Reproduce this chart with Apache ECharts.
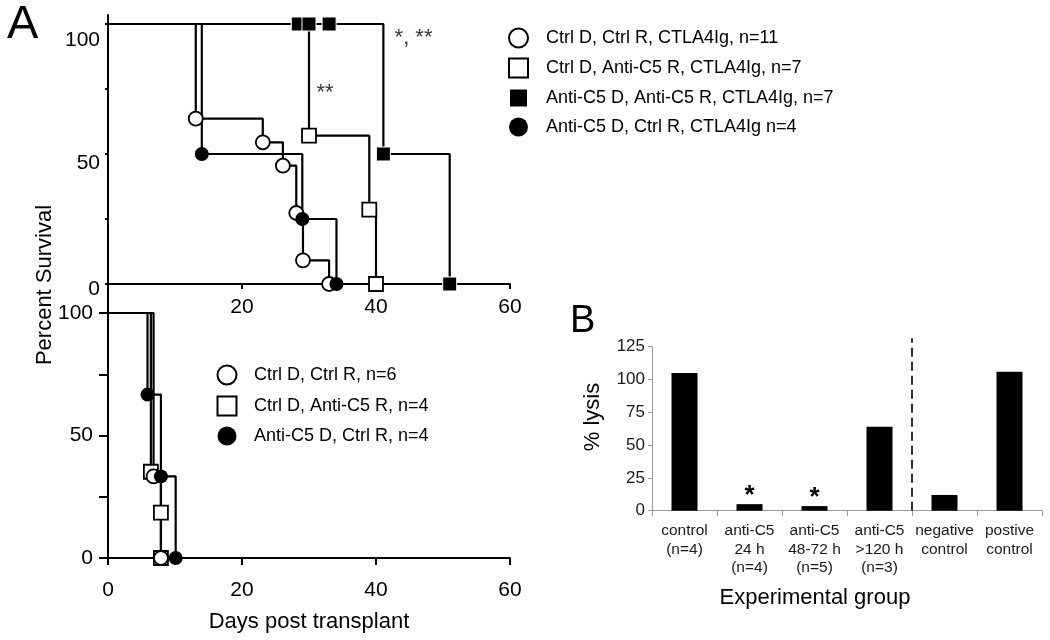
<!DOCTYPE html>
<html>
<head>
<meta charset="utf-8">
<script src="https://cdn.jsdelivr.net/npm/echarts@6/dist/echarts.min.js"></script>
<style>html,body{margin:0;padding:0;background:#fff}#c{width:1050px;height:640px}</style>
</head>
<body>
<div id="c"></div>
<script>
// ---- Panel A (top): CTLA4Ig groups ----
const topDaysCC = [13.1, 23.1, 26.1, 28.1, 29.1, 33];
const topSurvCC = [63.6, 54.5, 45.5, 27.3, 9.1, 0];
const topDaysCA = [30, 39, 40];
const topSurvCA = [57.1, 28.6, 0];
const topDaysAA = [41.1, 51];
const topSurvAA = [50, 0];
const topCensorAA = [28.4, 30, 33];
const topDaysAC = [14, 29, 34.1];
const topSurvAC = [50, 25, 0];
const topNames = ['Ctrl D, Ctrl R, CTLA4Ig, n=11', 'Ctrl D, Anti-C5 R, CTLA4Ig, n=7', 'Anti-C5 D, Anti-C5 R, CTLA4Ig, n=7', 'Anti-C5 D, Ctrl R, CTLA4Ig n=4'];
const topNotes = ['**', '*, **'];
const topNoteDays = [32.4, 45.6];
const topNoteVals = [73.6, 94.6];

// ---- Panel A (bottom): no CTLA4Ig ----
const botDaysCC = [6.8, 7.9];
const botSurvCC = [33.3, 0];
const botDaysCA = [6.4, 7.9, 7.9];
const botSurvCA = [35.2, 18.5, 0];
const botDaysAC = [5.9, 7.9, 10.1];
const botSurvAC = [66.7, 33.3, 0];
const botNames = ['Ctrl D, Ctrl R, n=6', 'Ctrl D, Anti-C5 R, n=4', 'Anti-C5 D, Ctrl R, n=4'];

const survTicks = [0, 25, 50, 75, 100];
const survLabels = [0, 50, 100];
const dayTicks = [0, 20, 40, 60];

// ---- Panel B: bars ----
const barCats = ['control\n(n=4)', 'anti-C5\n24 h\n(n=4)', 'anti-C5\n48-72 h\n(n=5)', 'anti-C5\n>120 h\n(n=3)', 'negative\ncontrol', 'postive\ncontrol'];
const barVals = [105, 5, 3.5, 64, 12, 106];
const barSig = ['', '*', '*', '', '', ''];
const dividerAt = 4;

const FF = 'Liberation Sans, Arial, Helvetica, sans-serif';

function stepPath(days, surv) {
  const pts = [[0, 100]];
  let prev = 100;
  days.forEach((d, i) => { pts.push([d, prev]); pts.push([d, surv[i]]); prev = surv[i]; });
  return pts;
}
function pts(days, surv) { return days.map((d, i) => [d, surv[i]]); }

const openStyle = { color: '#fff', borderColor: '#000', borderWidth: 1.8, opacity: 1 };
const fillStyle = { color: '#000', borderColor: '#000', borderWidth: 0, opacity: 1 };
const lineStyle = { color: '#000', width: 2.2 };

function kmLine(name, data, xi) {
  return { name: name, type: 'line', xAxisIndex: xi, yAxisIndex: xi, data: data, showSymbol: false, symbol: 'none',
    lineStyle: lineStyle, itemStyle: { color: '#000' }, z: 2, silent: true };
}
function kmMarks(name, data, xi, symbol, style) {
  return { name: name, type: 'scatter', xAxisIndex: xi, yAxisIndex: xi, data: data, symbol: symbol, symbolSize: 14,
    itemStyle: style, z: 5, emphasis: { disabled: true } };
}

const chart = echarts.init(document.getElementById('c'), null, { renderer: 'canvas' });

const option = {
  animation: false,
  backgroundColor: '#fff',
  textStyle: { fontFamily: FF },
  grid: [
    { left: 108, top: 15, width: 402, height: 269 },
    { left: 108, top: 284, width: 402, height: 274 },
    { left: 652, top: 346.7, width: 390, height: 164 }
  ],
  xAxis: [
    { gridIndex: 0, type: 'value', min: 0, max: 60, interval: 20,
      axisLine: { show: true, onZero: false, lineStyle: { color: '#000', width: 2 } },
      axisTick: { show: true, length: 5, customValues: [20, 40, 60], lineStyle: { color: '#000', width: 2 } },
      axisLabel: { customValues: [20, 40, 60], fontSize: 21, color: '#000', margin: 13, fontFamily: FF },
      splitLine: { show: false } },
    { gridIndex: 1, type: 'value', min: 0, max: 60, interval: 20,
      name: 'Days post transplant', nameLocation: 'middle', nameGap: 53,
      nameTextStyle: { fontSize: 22, color: '#000', fontFamily: FF },
      axisLine: { show: true, onZero: false, lineStyle: { color: '#000', width: 2 } },
      axisTick: { show: true, length: 7, customValues: dayTicks, lineStyle: { color: '#000', width: 2 } },
      axisLabel: { customValues: dayTicks, fontSize: 21, color: '#000', margin: 22, fontFamily: FF },
      splitLine: { show: false } },
    { gridIndex: 2, type: 'category', data: barCats,
      axisLine: { show: true, lineStyle: { color: '#9a9a9a', width: 1 } },
      axisTick: { show: true, length: 5, lineStyle: { color: '#9a9a9a' } },
      axisLabel: { interval: 0, fontSize: 15.5, lineHeight: 18.5, color: '#1a1a1a', margin: 11, fontFamily: FF } },
    { gridIndex: 2, type: 'value', min: 0, max: 6, show: false }
  ],
  yAxis: [
    { gridIndex: 0, type: 'value', min: 0, max: 103.46,
      axisLine: { show: true, onZero: false, lineStyle: { color: '#000', width: 2 } },
      axisTick: { show: true, length: 3, customValues: survTicks, lineStyle: { color: '#000', width: 2 } },
      axisLabel: { customValues: survLabels, margin: 8, color: '#000', fontSize: 21, fontFamily: FF,
        formatter: function (v) { return v === 100 ? '{a|100}' : (v === 50 ? '{b|50}' : '{c|0}'); },
        rich: {
          a: { fontSize: 21, fontFamily: FF, color: '#000', padding: [32, 0, 0, 0] },
          b: { fontSize: 21, fontFamily: FF, color: '#000', padding: [18, 0, 0, 0] },
          c: { fontSize: 21, fontFamily: FF, color: '#000', padding: [10, 0, 0, 0] }
        } },
      splitLine: { show: false } },
    { gridIndex: 1, type: 'value', min: 0, max: 111.84,
      axisLine: { show: true, onZero: false, lineStyle: { color: '#000', width: 2 } },
      axisTick: { show: true, length: 9, customValues: survTicks, lineStyle: { color: '#000', width: 2 } },
      axisLabel: { customValues: survLabels, margin: 15, color: '#000', fontSize: 21, fontFamily: FF },
      splitLine: { show: false } },
    { gridIndex: 2, type: 'value', min: 0, max: 125, interval: 25,
      axisLine: { show: true, lineStyle: { color: '#9a9a9a', width: 1 } },
      axisTick: { show: true, length: 4, lineStyle: { color: '#9a9a9a' } },
      axisLabel: { fontSize: 17, color: '#1a1a1a', margin: 7, fontFamily: FF },
      splitLine: { show: false } }
  ],
  legend: [
    { data: topNames, orient: 'vertical', left: 503, top: 22.5, itemWidth: 19, itemHeight: 19, itemGap: 9,
      selectedMode: false, itemStyle: { opacity: 1 },
      textStyle: { fontSize: 18, lineHeight: 19, color: '#000', fontFamily: FF, padding: [0, 0, 0, 13] } },
    { data: botNames, orient: 'vertical', left: 211.5, top: 359.5, itemWidth: 19, itemHeight: 19, itemGap: 10,
      selectedMode: false, itemStyle: { opacity: 1 },
      textStyle: { fontSize: 18, lineHeight: 19, color: '#000', fontFamily: FF, padding: [0, 0, 0, 12.5] } }
  ],
  series: [
    // top lines
    kmLine('lineTopAA', stepPath(topDaysAA, topSurvAA), 0),
    kmLine('lineTopCA', stepPath(topDaysCA, topSurvCA), 0),
    kmLine('lineTopAC', stepPath(topDaysAC, topSurvAC), 0),
    kmLine('lineTopCC', stepPath(topDaysCC, topSurvCC), 0),
    // top markers
    kmMarks(topNames[0], pts(topDaysCC, topSurvCC), 0, 'circle', openStyle),
    kmMarks(topNames[1], pts(topDaysCA, topSurvCA), 0, 'rect', openStyle),
    kmMarks(topNames[2], pts(topDaysAA, topSurvAA).concat(topCensorAA.map(d => [d, 100])), 0, 'rect',
      { color: '#000', borderColor: '#fff', borderWidth: 1, opacity: 1 }),
    kmMarks(topNames[3], pts(topDaysAC, topSurvAC), 0, 'circle', fillStyle),
    // annotations
    { type: 'scatter', xAxisIndex: 0, yAxisIndex: 0, symbolSize: 0, silent: true, z: 6,
      data: topNotes.map((t, i) => ({ name: t, value: [topNoteDays[i], topNoteVals[i]] })),
      label: { show: true, position: 'inside', formatter: p => p.name, fontSize: 22, color: '#000', fontFamily: FF } },
    // bottom lines
    kmLine('lineBotCA', stepPath(botDaysCA, botSurvCA), 1),
    kmLine('lineBotCC', stepPath(botDaysCC, botSurvCC), 1),
    kmLine('lineBotAC', stepPath(botDaysAC, botSurvAC), 1),
    // bottom markers
    kmMarks(botNames[1], pts(botDaysCA, botSurvCA), 1, 'rect', openStyle),
    kmMarks(botNames[0], pts(botDaysCC, botSurvCC), 1, 'circle', openStyle),
    kmMarks(botNames[2], pts(botDaysAC, botSurvAC), 1, 'circle', fillStyle),
    // bars
    { type: 'bar', xAxisIndex: 2, yAxisIndex: 2, data: barVals, barWidth: '40%',
      itemStyle: { color: '#000' },
      label: { show: true, position: 'top', distance: -5, fontSize: 26, fontWeight: 'bold', color: '#000', fontFamily: FF,
        formatter: p => barSig[p.dataIndex] } },
    // divider
    { type: 'line', xAxisIndex: 3, yAxisIndex: 2, data: [[dividerAt, 0], [dividerAt, 131.4]], clip: false,
      showSymbol: false, symbol: 'none', silent: true,
      lineStyle: { color: '#333', width: 2, type: [9, 5] } }
  ],
  graphic: [
    { type: 'text', left: 7, top: 2, style: { text: 'A', fontSize: 47, fill: '#000', fontFamily: FF } },
    { type: 'text', left: 570, top: 303, style: { text: 'B', fontSize: 38, fill: '#000', fontFamily: FF } },
    { type: 'text', x: 45, y: 285, rotation: Math.PI / 2,
      style: { text: 'Percent Survival', fontSize: 22, fill: '#000', fontFamily: FF, align: 'center', verticalAlign: 'middle' } },
    { type: 'text', x: 593, y: 417, rotation: Math.PI / 2,
      style: { text: '% lysis', fontSize: 22, fill: '#000', fontFamily: FF, align: 'center', verticalAlign: 'middle' } },
    { type: 'text', x: 815, y: 598,
      style: { text: 'Experimental group', fontSize: 22, fill: '#000', fontFamily: FF, align: 'center', verticalAlign: 'middle' } }
  ]
};
chart.setOption(option);
</script>
</body>
</html>
